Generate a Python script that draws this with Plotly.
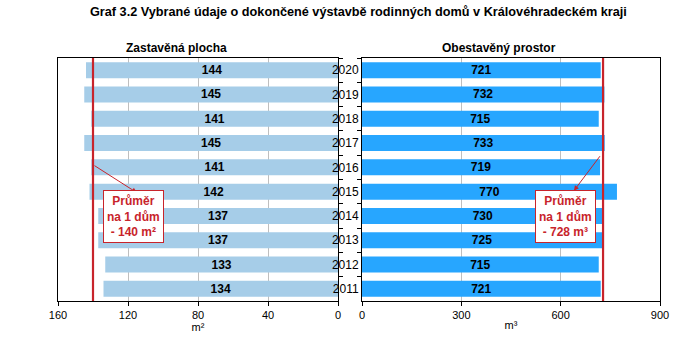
import plotly.graph_objects as go

years = ["2020", "2019", "2018", "2017", "2016", "2015", "2014", "2013", "2012", "2011"]
area_m2 = [144, 145, 141, 145, 141, 142, 137, 137, 133, 134]
volume_m3 = [721, 732, 715, 733, 719, 770, 730, 725, 715, 721]
avg_area = 140
avg_volume = 728
left_ticks = [0, 40, 80, 120, 160]
right_ticks = [0, 300, 600, 900]

FONT = "Arial, Liberation Sans, sans-serif"
RED = "#C8242B"
LIGHT = "#A6CDE8"
BRIGHT = "#27A6FF"
GRID = "#BFBFBF"

fig = go.Figure()
fig.add_trace(go.Bar(
    x=area_m2, y=years, orientation="h", marker=dict(color=LIGHT, line=dict(width=0)),
    texttemplate="<b>%{x}</b>", textposition="inside", insidetextanchor="middle",
    textangle=0, constraintext="none",
    textfont=dict(family=FONT, size=12, color="black"),
    xaxis="x", yaxis="y", showlegend=False, hoverinfo="skip"))
fig.add_trace(go.Bar(
    x=volume_m3, y=years, orientation="h", marker=dict(color=BRIGHT, line=dict(width=0)),
    texttemplate="<b>%{x}</b>", textposition="inside", insidetextanchor="middle",
    textangle=0, constraintext="none",
    textfont=dict(family=FONT, size=12, color="black"),
    xaxis="x2", yaxis="y2", showlegend=False, hoverinfo="skip"))

ydom = [1 - 301 / 353, 1 - 58 / 353]
common_x = dict(showline=True, linecolor="black", linewidth=1, mirror=True,
                ticks="outside", ticklen=4, tickcolor="black",
                showgrid=True, gridcolor=GRID, gridwidth=1, zeroline=False,
                tickfont=dict(family=FONT, size=11, color="black"),
                title_font=dict(family=FONT, size=11, color="black"), title_standoff=1)
common_y = dict(type="category", categoryorder="array", categoryarray=years,
                autorange="reversed", showline=True, linecolor="black", linewidth=1,
                mirror=True, ticks="outside", ticklen=4, tickcolor="black",
                tickson="boundaries", showgrid=False, zeroline=False,
                tickfont=dict(family=FONT, size=12, color="black"))

fig.update_layout(
    width=681, height=353, margin=dict(l=0, r=0, t=0, b=0, autoexpand=False),
    paper_bgcolor="white", plot_bgcolor="white", bargap=0.34,
    xaxis=dict(domain=[58 / 681, 338 / 681], range=[160, 0], tickvals=left_ticks,
               title_text="m²", anchor="y", automargin=False, **common_x),
    yaxis=dict(domain=ydom, side="right", showticklabels=False, anchor="x",
               automargin=False, **common_y),
    xaxis2=dict(domain=[362 / 681, 660 / 681], range=[0, 900], tickvals=right_ticks,
                title_text="m³", anchor="y2", automargin=False, **common_x),
    yaxis2=dict(domain=ydom, side="left", showticklabels=True, anchor="x2",
                automargin=False, **common_y),
)

# average lines
fig.add_shape(type="line", xref="x", yref="y domain", x0=avg_area, x1=avg_area, y0=0, y1=1,
              line=dict(color=RED, width=2.2))
fig.add_shape(type="line", xref="x2", yref="y2 domain", x0=avg_volume, x1=avg_volume, y0=0, y1=1,
              line=dict(color=RED, width=2.2))

# arrows (head at box)
fig.add_annotation(xref="x", yref="y", axref="x", ayref="y", x=115, y=5.04,
                   ax=avg_area, ay=3.89, text="", showarrow=True, arrowhead=2,
                   arrowsize=1, arrowwidth=1, arrowcolor=RED)
fig.add_annotation(xref="x2", yref="y2", axref="x2", ayref="y2", x=640, y=4.96,
                   ax=avg_volume - 6, ay=3.48, text="", showarrow=True, arrowhead=2,
                   arrowsize=1, arrowwidth=1, arrowcolor=RED)

box = dict(showarrow=False, xref="paper", yref="paper", xanchor="center", yanchor="middle",
           bgcolor="white", bordercolor=RED, borderwidth=1, borderpad=3,
           font=dict(family=FONT, size=12, color=RED))
fig.add_annotation(x=133 / 681, y=1 - 216.5 / 353,
                   text=f"<b>Průměr<br>na 1 dům<br>- {avg_area} m²</b>", **box)
fig.add_annotation(x=565.5 / 681, y=1 - 216.5 / 353,
                   text=f"<b>Průměr<br>na 1 dům<br>- {avg_volume} m³</b>", **box)

# titles
fig.add_annotation(x=88 / 681, y=1 - 12 / 353, xref="paper", yref="paper", xanchor="left",
                   yanchor="middle", showarrow=False,
                   text="<b>Graf 3.2 Vybrané údaje o dokončené výstavbě rodinných domů v Královéhradeckém kraji</b>",
                   font=dict(family=FONT, size=12.7, color="black"))
fig.add_annotation(x=176 / 681, y=1 - 48 / 353, xref="paper", yref="paper", xanchor="center",
                   yanchor="middle", showarrow=False, text="<b>Zastavěná plocha</b>",
                   font=dict(family=FONT, size=12, color="black"))
fig.add_annotation(x=499 / 681, y=1 - 48 / 353, xref="paper", yref="paper", xanchor="center",
                   yanchor="middle", showarrow=False, text="<b>Obestavěný prostor</b>",
                   font=dict(family=FONT, size=12, color="black"))

fig.write_html("out.html")
